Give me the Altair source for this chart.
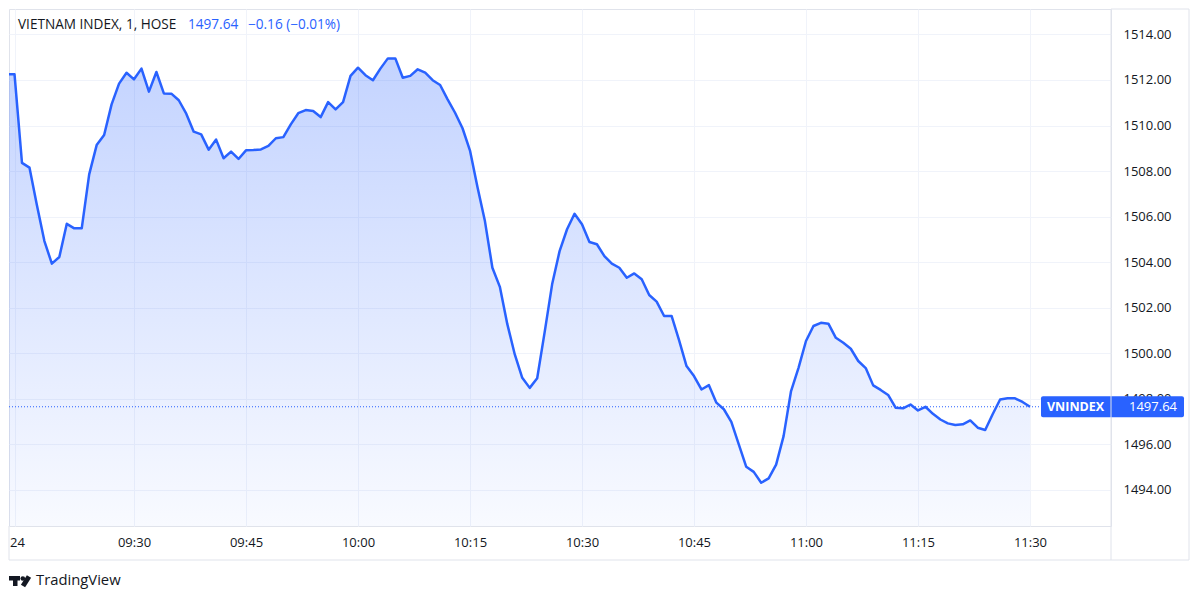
import json
import altair as alt
import pandas as pd

# ---- data ----
start_minute = 9 * 60 + 13  # first 1-minute bar at 09:13
values = [
    1512.25, 1512.25, 1508.36, 1508.15, 1506.50, 1504.92, 1503.93, 1504.22, 1505.68, 1505.48,
    1505.48, 1507.85, 1509.14, 1509.58, 1510.93, 1511.84, 1512.32, 1512.03, 1512.50, 1511.49,
    1512.35, 1511.41, 1511.40, 1511.11, 1510.52, 1509.73, 1509.61, 1508.94, 1509.38, 1508.56,
    1508.85, 1508.53, 1508.91, 1508.92, 1508.95, 1509.10, 1509.44, 1509.49, 1510.05, 1510.54,
    1510.68, 1510.64, 1510.37, 1511.03, 1510.71, 1511.03, 1512.18, 1512.54, 1512.21, 1511.99,
    1512.50, 1512.95, 1512.95, 1512.10, 1512.18, 1512.47, 1512.32, 1511.99, 1511.78, 1511.15,
    1510.56, 1509.88, 1508.90, 1507.30, 1505.80, 1503.75, 1502.91, 1501.27, 1499.94, 1498.91,
    1498.47, 1498.89, 1500.92, 1503.02, 1504.48, 1505.44, 1506.12, 1505.66, 1504.88, 1504.78,
    1504.26, 1503.93, 1503.75, 1503.31, 1503.50, 1503.24, 1502.55, 1502.26, 1501.63, 1501.63,
    1500.57, 1499.43, 1498.99, 1498.40, 1498.59, 1497.82, 1497.53, 1496.98, 1495.99, 1495.00,
    1494.78, 1494.30, 1494.49, 1495.10, 1496.35, 1498.33, 1499.35, 1500.53, 1501.19, 1501.33,
    1501.29, 1500.67, 1500.45, 1500.19, 1499.65, 1499.34, 1498.58, 1498.38, 1498.16, 1497.60,
    1497.57, 1497.74, 1497.48, 1497.64, 1497.33, 1497.08, 1496.91, 1496.84, 1496.87, 1497.04,
    1496.72, 1496.62, 1497.31, 1497.96, 1498.01, 1498.01, 1497.85, 1497.64,
]
minutes = [start_minute + i for i in range(len(values))]

x_tick_minutes = [554, 570, 585, 600, 615, 630, 645, 660, 675, 690]
x_tick_labels = ["24", "09:30", "09:45", "10:00", "10:15", "10:30", "10:45", "11:00", "11:15", "11:30"]
y_tick_values = [1494, 1496, 1498, 1500, 1502, 1504, 1506, 1508, 1510, 1512, 1514]

header_name = "VIETNAM INDEX, 1, HOSE"
change_text = "\u22120.16 (\u22120.01%)"
symbol = "VNINDEX"

x_domain = [553.26, 700.85]
y_domain = [1492.40, 1515.12]

BLUE = "#2962FF"
TEXT = "#131722"
GRID = "#f0f3fa"
BORDER = "#e0e3eb"
FONT = "Open Sans"

W, H = 1102, 517

df = pd.DataFrame({"minute": minutes, "value": values})
last = values[-1]
last_text = f"{last:.2f}"

label_expr = f"{json.dumps(x_tick_labels)}[indexof({json.dumps(x_tick_minutes)}, datum.value)]"

x_enc = alt.X(
    "minute:Q",
    scale=alt.Scale(domain=x_domain, nice=False, zero=False),
    axis=alt.Axis(
        values=x_tick_minutes, labelExpr=label_expr, grid=True, gridColor=GRID,
        domain=False, ticks=False, labelPadding=10, labelColor=TEXT, labelFontSize=13,
        labelFont=FONT, labelFlush=10, labelFlushOffset=5, title=None, zindex=0,
    ),
)
y_enc = alt.Y(
    "value:Q",
    scale=alt.Scale(domain=y_domain, nice=False, zero=False),
    axis=alt.Axis(
        orient="right", values=y_tick_values, format=".2f", grid=True, gridColor=GRID,
        domain=False, ticks=False, labelPadding=12, labelColor=TEXT, labelFontSize=13,
        labelFont=FONT, title=None, zindex=0,
    ),
)

base = alt.Chart(df)

area = base.mark_area(
    clip=True,
    color=alt.Gradient(
        gradient="linear",
        stops=[
            alt.GradientStop(color="rgba(41,98,255,0.28)", offset=0),
            alt.GradientStop(color="rgba(41,98,255,0.03)", offset=1),
        ],
        x1=1, x2=1, y1=0, y2=1,
    ),
).encode(x=x_enc, y=y_enc, y2=alt.datum(y_domain[0]))

line = base.mark_line(clip=True, color=BLUE, strokeWidth=2.5, strokeJoin="round").encode(
    x="minute:Q", y="value:Q"
)

last_df = pd.DataFrame({"value": [last], "hi": [last + 0.46], "lo": [last - 0.46]})

price_line = alt.Chart(last_df).mark_rule(color=BLUE, strokeDash=[1, 2], strokeWidth=1).encode(
    y="value:Q"
)
badge = alt.Chart(last_df).mark_rect(color=BLUE, cornerRadius=2).encode(
    x=alt.value(1032), x2=alt.value(1175), y="hi:Q", y2="lo:Q"
)
badge_sym = alt.Chart(last_df).mark_text(
    align="left", baseline="middle", color="white", fontWeight="bold", fontSize=12.5, font=FONT
).encode(x=alt.value(1038), y="value:Q", text=alt.value(symbol))
badge_val = alt.Chart(last_df).mark_text(
    align="right", baseline="middle", color="white", fontSize=13, font=FONT
).encode(x=alt.value(1168), y="value:Q", text=alt.value(last_text))

# header legend
hdr_name = alt.Chart(last_df).mark_text(
    align="left", baseline="middle", color=TEXT, fontSize=13.6, font=FONT
).encode(x=alt.value(9), y=alt.value(16), text=alt.value(header_name))
hdr_price = alt.Chart(last_df).mark_text(
    align="left", baseline="middle", color=BLUE, fontSize=13.6, font=FONT
).encode(x=alt.value(179), y=alt.value(16), text=alt.value(last_text))
hdr_change = alt.Chart(last_df).mark_text(
    align="left", baseline="middle", color=BLUE, fontSize=13.6, font=FONT
).encode(x=alt.value(239), y=alt.value(16), text=alt.value(change_text))

# outer frame of the widget (price scale + time scale panes)
frame_right = alt.Chart(last_df).mark_rule(color=BORDER, strokeWidth=1).encode(
    x=alt.value(1180), y=alt.value(0), y2=alt.value(551)
)
frame_bottom = alt.Chart(last_df).mark_rule(color=BORDER, strokeWidth=1).encode(
    x=alt.value(0), x2=alt.value(1180), y=alt.value(551)
)
frame_top = alt.Chart(last_df).mark_rule(color=BORDER, strokeWidth=1).encode(
    x=alt.value(W), x2=alt.value(1180), y=alt.value(0)
)
frame_sep = alt.Chart(last_df).mark_rule(color=BORDER, strokeWidth=1).encode(
    x=alt.value(W), y=alt.value(0), y2=alt.value(551)
)
frame_left = alt.Chart(last_df).mark_rule(color=BORDER, strokeWidth=1).encode(
    x=alt.value(0), y=alt.value(H), y2=alt.value(551)
)

# TradingView logo + wordmark
logo_bar = alt.Chart(last_df).mark_rect(color=TEXT).encode(
    x=alt.value(0), x2=alt.value(11), y=alt.value(567), y2=alt.value(571.5)
)
logo_stem = alt.Chart(last_df).mark_rect(color=TEXT).encode(
    x=alt.value(4), x2=alt.value(8.5), y=alt.value(567), y2=alt.value(577)
)
logo_dot = alt.Chart(last_df).mark_circle(color=TEXT, opacity=1, size=22).encode(
    x=alt.value(13.8), y=alt.value(569.5)
)
logo_slash = alt.Chart(last_df).mark_rule(color=TEXT, strokeWidth=5, strokeCap="butt").encode(
    x=alt.value(20), x2=alt.value(14), y=alt.value(567.5), y2=alt.value(577)
)
wordmark = alt.Chart(last_df).mark_text(
    align="left", baseline="middle", color=TEXT, fontSize=14.8, font=FONT
).encode(x=alt.value(27), y=alt.value(572), text=alt.value("TradingView"))

chart = alt.layer(
    area, line, price_line, badge, badge_sym, badge_val,
    hdr_name, hdr_price, hdr_change,
    frame_right, frame_bottom, frame_top, frame_sep, frame_left,
    logo_bar, logo_stem, logo_dot, logo_slash, wordmark,
).properties(
    width=W, height=H, padding=0, background="white"
).configure_view(
    stroke=BORDER, strokeWidth=1
)

chart.save("out.html", embed_options={"renderer": "svg", "actions": False})
